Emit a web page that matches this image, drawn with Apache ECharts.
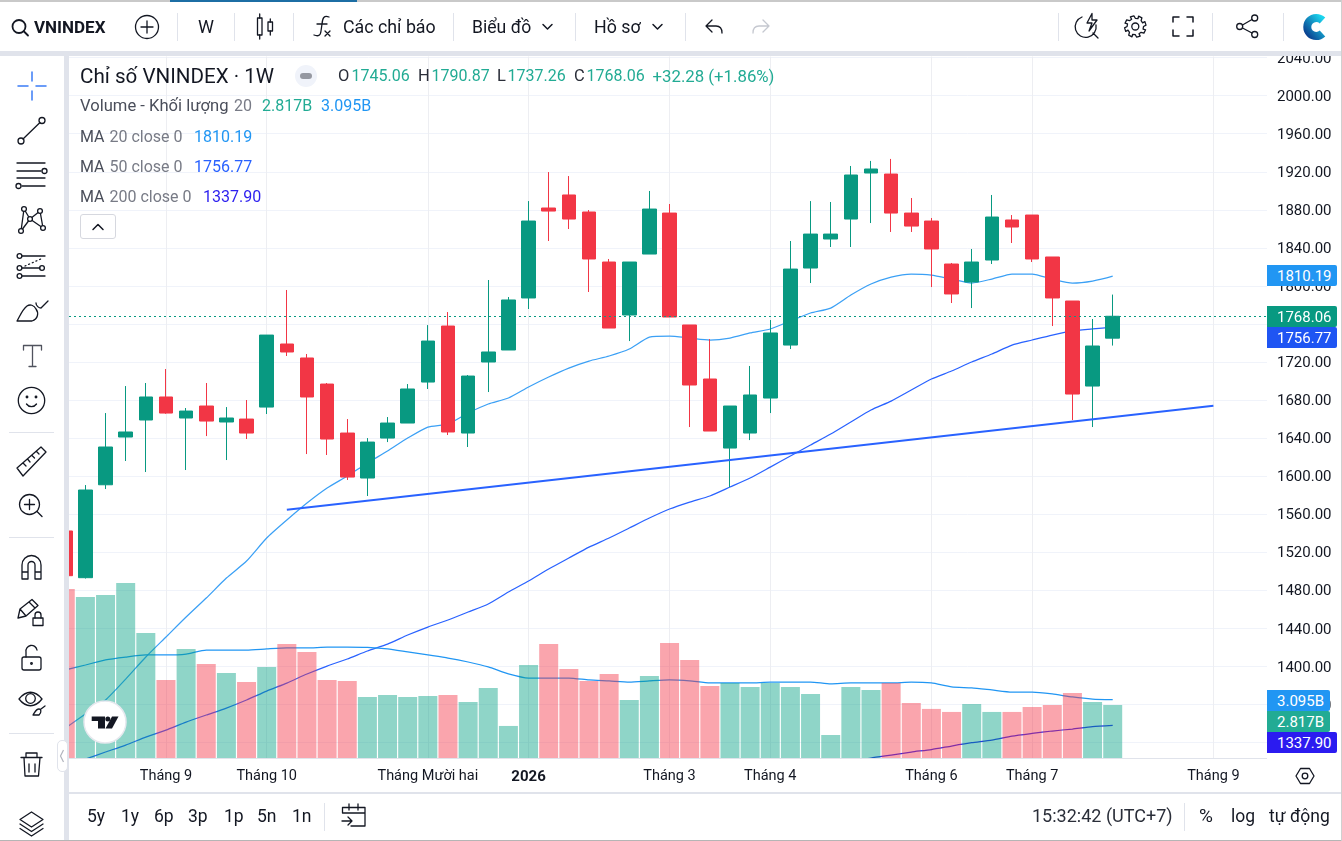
<!DOCTYPE html>
<html lang="vi"><head><meta charset="utf-8"><title>VNINDEX</title>
<script src="https://cdn.jsdelivr.net/npm/echarts@6/dist/echarts.min.js"></script>
<style>
html,body{margin:0;padding:0;width:1342px;height:841px;overflow:hidden;background:#fff;font-family:Roboto,"Liberation Sans",sans-serif;color:#131722}
#chart{position:absolute;left:0;top:0;width:1342px;height:841px}
.p{position:absolute;z-index:2}
.t{position:absolute;z-index:4;white-space:nowrap;line-height:20px;height:20px}
.tag{position:absolute;z-index:4;left:1267px;height:21px;line-height:22px;color:#fff;font-size:15px;text-align:left;padding-left:10px;box-sizing:border-box;border-radius:0 2px 2px 0}
#ic{position:absolute;left:0;top:0;z-index:3;pointer-events:none}
#ic .s{fill:none;stroke:#131722;stroke-width:1.3;stroke-linecap:round;stroke-linejoin:round}
</style></head><body>
<div id="chart"></div>
<script>
// ---- chart data (index 0 = the week clipped at the left edge)
const opens=[1542.3,1493.2,1590.9,1641.1,1659.0,1683.2,1661.1,1673.7,1656.9,1660.0,1672.6,1738.9,1724.2,1696.8,1645.3,1598.0,1640.0,1655.8,1698.9,1757.8,1645.3,1720.0,1732.6,1787.3,1881.9,1895.6,1877.7,1825.1,1769.4,1833.5,1876.6,1758.9,1702.1,1629.5,1645.3,1682.1,1737.8,1818.8,1849.3,1870.3,1918.7,1917.6,1876.6,1868.2,1823.0,1804.1,1827.2,1869.3,1874.5,1830.4,1784.1,1694.7,1745.06];
const closes=[1495.3,1585.4,1630.6,1646.4,1683.2,1666.3,1668.4,1657.9,1661.1,1645.3,1748.3,1730.5,1683.2,1639.0,1599.0,1635.8,1655.8,1691.6,1742.0,1646.4,1705.2,1730.5,1785.2,1868.2,1878.7,1870.3,1828.3,1755.7,1825.1,1880.8,1767.3,1695.8,1647.4,1673.7,1685.3,1750.5,1817.7,1854.5,1854.5,1916.6,1922.9,1876.6,1862.9,1838.8,1791.5,1825.1,1872.4,1861.9,1828.3,1787.3,1686.3,1736.8,1768.06];
const lows=[1490,1492.3,1586.4,1615.9,1604.3,1665.5,1606.4,1642.1,1616.9,1639.0,1665.3,1726.3,1623.2,1622.2,1595.9,1579.1,1635.8,1655.8,1691.6,1643.2,1630.6,1688.4,1732.6,1775.7,1847.2,1859.8,1793.6,1755.7,1742.0,1833.5,1767.3,1651.6,1647.4,1588.5,1637.9,1666.3,1733.6,1803.0,1840.9,1840.9,1866.1,1856.7,1856.7,1798.8,1782.0,1776.7,1823.0,1845.1,1825.1,1757.8,1659.0,1651.6,1737.26];
const highs=[1550,1590.6,1666.3,1694.7,1697.9,1712.6,1671.6,1697.9,1672.6,1680.0,1748.3,1795.7,1728.4,1697.9,1660.0,1640.0,1662.1,1696.8,1758.8,1772.5,1706.3,1806.2,1788.3,1889.2,1919.7,1915.5,1879.8,1828.3,1825.1,1899.8,1886.1,1758.9,1744.1,1673.7,1715.8,1764.1,1847.2,1889.2,1888.2,1926.1,1931.4,1933.5,1892.4,1871.4,1824.1,1838.8,1895.6,1874.5,1874.5,1830.4,1784.1,1765.2,1790.87];
const volumes=[8.95,8.53,8.63,9.27,6.62,4.14,5.78,4.98,4.51,4.03,4.83,6.04,5.62,4.14,4.09,3.24,3.35,3.24,3.29,3.35,2.98,3.72,1.71,4.93,6.04,4.72,4.09,4.46,3.08,4.35,6.09,5.20,3.82,3.98,3.77,3.98,3.77,3.40,1.23,3.77,3.61,3.98,2.92,2.61,2.45,2.87,2.45,2.45,2.71,2.82,3.45,2.98,2.817];
const ma20=[1335.1,1349.8,1364.6,1386.6,1409.8,1430.8,1451.8,1471.8,1492.8,1510.7,1534.9,1553.8,1571.7,1587.5,1600.1,1613.8,1626.4,1640.0,1651.6,1654.8,1666.3,1675.8,1682.1,1693.7,1704.2,1713.6,1721.0,1726.3,1733.6,1746.2,1747.3,1745.2,1743.1,1745.2,1750.5,1754.7,1763.1,1771.5,1776.7,1790.4,1802.0,1809.3,1812.5,1811.4,1807.2,1803.0,1807.2,1812.5,1812.5,1807.2,1803.0,1805.1,1810.19];
const ma50=[1295.2,1302.5,1309.9,1317.2,1325.6,1333.0,1341.4,1348.8,1356.1,1364.6,1374.0,1382.4,1391.9,1400.3,1407.7,1416.1,1423.4,1432.9,1441.3,1448.7,1457.1,1465.5,1478.1,1489.7,1502.3,1513.9,1525.4,1534.9,1545.4,1555.9,1565.4,1572.7,1579.1,1588.5,1598.0,1609.5,1621.1,1632.7,1644.2,1656.9,1669.5,1678.9,1690.5,1702.1,1710.5,1720.0,1728.4,1737.8,1743.1,1748.3,1752.6,1754.7,1756.77];
const ma200Weeks=[38,39,40,41,42,43,44,45,46,47,48,49,50,51];
const ma200=[1299.4,1303.6,1306.7,1309.9,1312.5,1316.2,1319.7,1322.5,1326.7,1329.5,1332.0,1334.1,1336.5,1337.90];
const volMa=[4.67,4.93,5.20,5.35,5.46,5.46,5.51,5.72,5.72,5.72,5.78,5.83,5.83,5.88,5.88,5.86,5.78,5.62,5.46,5.30,5.09,4.83,4.46,4.24,4.24,4.24,4.14,4.09,4.03,4.09,4.14,4.09,3.98,3.98,3.98,4.03,4.03,4.03,3.93,3.98,3.98,3.98,4.03,3.98,3.77,3.72,3.61,3.50,3.50,3.40,3.24,3.13,3.095];
const trendWeeks=[10,56];
const trendPrices=[1564.7,1674.0];
const lastClose=1768.06;
const priceTicks=[1320,1360,1400,1440,1480,1520,1560,1600,1640,1680,1720,1760,1800,1840,1880,1920,1960,2000,2040];
const timeTickWeeks=[4,9,17,22,29,34,42,47,56];
const timeTickLabels=['Tháng 9','Tháng 10','Tháng Mười hai','2026','Tháng 3','Tháng 4','Tháng 6','Tháng 7','Tháng 9'];

const FONT='Roboto';
const UP='#089981',DOWN='#F23645';
const weeks=opens.map((_,i)=>i-1);
const chart=echarts.init(document.getElementById('chart'),null,{renderer:'canvas'});
const gridLine={lineStyle:{color:'#F0F3FA',width:1}};
chart.setOption({
  animation:false,
  backgroundColor:'#fff',
  grid:{left:69,top:56.5,width:1198,height:701.8,containLabel:false},
  xAxis:{type:'value',min:-0.814,max:58.66,
    axisLine:{show:false},
    axisTick:{show:false,customValues:timeTickWeeks},
    splitLine:{show:true,lineStyle:{color:'#EDEEF2',width:1}},
    axisLabel:{show:true,customValues:timeTickWeeks,margin:11,fontFamily:FONT,fontSize:14.5,color:'#131722',
      formatter:v=>{const s=timeTickLabels[timeTickWeeks.indexOf(v)];return s==='2026'?'{b|2026}':s;},
      rich:{b:{fontWeight:'bold',fontFamily:FONT,fontSize:15,color:'#131722'}}}},
  yAxis:[{type:'value',position:'right',min:1303.3,max:2041.2,
      axisLine:{show:false},axisTick:{show:false,customValues:priceTicks},
      splitLine:Object.assign({show:true},gridLine),
      axisLabel:{show:true,customValues:priceTicks,margin:10,fontFamily:FONT,fontSize:15,color:'#131722',
        formatter:v=>'{a|'+v.toFixed(2)+'}',
        rich:{a:{fontFamily:FONT,fontSize:15,color:'#131722',padding:[3,0,0,0]}}}},
    {type:'value',show:false,min:0,max:37.09,splitLine:{show:false}}],
  series:[
    {type:'line',name:'MA 20',z:2,smooth:0.2,data:weeks.map((w,i)=>[w,ma20[i]]),showSymbol:false,symbol:'none',lineStyle:{color:'#3BA0F5',width:1.25}},
    {type:'line',name:'MA 50',z:2,smooth:0.2,data:weeks.map((w,i)=>[w,ma50[i]]),showSymbol:false,symbol:'none',lineStyle:{color:'#2962FF',width:1.25}},
    {type:'line',name:'MA 200',z:2,smooth:0.2,data:ma200Weeks.map((w,i)=>[w,ma200[i]]),showSymbol:false,symbol:'none',lineStyle:{color:'#2A2AF0',width:1.25}},
    {type:'line',name:'Volume MA',z:2,smooth:0.2,yAxisIndex:1,data:weeks.map((w,i)=>[w,volMa[i]]),showSymbol:false,symbol:'none',lineStyle:{color:'#2196F3',width:1.25}},
    {type:'bar',name:'Volume',z:3,yAxisIndex:1,barWidth:19,clip:true,
      data:weeks.map((w,i)=>({value:[w,volumes[i]],itemStyle:{color:closes[i]>=opens[i]?'rgba(0,160,130,.44)':'rgba(244,50,68,.44)'}}))},
    {type:'candlestick',name:'VNINDEX',z:4,barWidth:14,clip:true,
      data:weeks.map((w,i)=>[w,opens[i],closes[i],lows[i],highs[i]]),
      itemStyle:{color:UP,color0:DOWN,borderColor:UP,borderColor0:DOWN,borderWidth:1}},
    {type:'line',name:'Last close',z:5,data:[],symbol:'none',
      markLine:{silent:true,symbol:'none',label:{show:false},animation:false,
        lineStyle:{color:UP,type:[2,3],width:1.2,opacity:1},emphasis:{disabled:true},data:[{yAxis:lastClose}]}},
    {type:'line',name:'Trend',z:5,data:trendWeeks.map((w,i)=>[w,trendPrices[i]]),showSymbol:false,symbol:'none',lineStyle:{color:'#2962FF',width:2}}
  ]
});

// ---- page chrome
function panel(x,y,w,h,c){const d=document.createElement('div');d.className='p';d.style.cssText=`left:${x}px;top:${y}px;width:${w}px;height:${h}px;background:${c}`;document.body.appendChild(d);return d;}
function text(x,yc,s,o={}){const d=document.createElement('span');d.className='t';d.textContent=s;
  d.style.left=x+'px';d.style.top=(yc-10)+'px';d.style.fontSize=(o.size||16)+'px';d.style.color=o.color||'#131722';
  if(o.bold)d.style.fontWeight='700';if(o.font)d.style.fontFamily=o.font;document.body.appendChild(d);return d;}
function tag(y,s,c,w){const d=document.createElement('div');d.className='tag';d.textContent=s;d.style.top=y+'px';d.style.background=c;d.style.width=w+'px';document.body.appendChild(d);}
const EDGE='#E0E3EB';
panel(0,0,1342,52,'#fff');
panel(0,0,1342,2,'#C9C9C9');
panel(170,0,187,2,'#1C6EA4');
panel(0,51,1342,5,EDGE);
panel(0,56,64,785,'#fff');
panel(64,56,5,785,EDGE);
panel(69,758,1198,1,EDGE);
panel(69,792,1273,1.5,EDGE);
panel(69,793.5,1273,47,'#fff');
panel(0,840,1342,1,'#B5B5B5');
panel(1341,0,1,841,'#D0D0D0');
[177,234,293,453,575,685,1058,1212,1283].forEach(x=>panel(x,13,1,28,EDGE));
[324,1184].forEach(x=>panel(x,803,1,28,EDGE));
[432,537,733].forEach(y=>panel(9,y,45,1,EDGE));
// collapse handle
const h=panel(57,740,11,32,'#fff');h.style.border='1px solid '+EDGE;h.style.borderRadius='5px';h.style.boxSizing='border-box';
// collapse button in legend
const bt=panel(80,214,36,25,'#fff');bt.style.border='1px solid #D6D8DF';bt.style.borderRadius='3px';bt.style.boxSizing='border-box';

// toolbar text
text(34,27,'VNINDEX',{bold:true,size:17});
text(198,26.5,'W',{size:18});
text(343,26.5,'Các chỉ báo',{size:17.8});
text(472,26.5,'Biểu đồ',{size:17.6});
text(594,26.5,'Hồ sơ',{size:17.8});
// legend
text(80,75.5,'Chỉ số VNINDEX · 1W',{size:20.6});
const V='#22AB94',G='#787B86';
text(338,76,'O',{size:16.5,color:'#2A2E39'});text(351.5,76,'1745.06',{color:V});
text(418,76,'H',{size:16.5,color:'#2A2E39'});text(431.5,76,'1790.87',{color:V});
text(497,76,'L',{size:16.5,color:'#2A2E39'});text(507.5,76,'1737.26',{color:V});
text(574,76,'C',{size:16.5,color:'#2A2E39'});text(586.5,76,'1768.06',{color:V});
text(652.5,76,'+32.28 (+1.86%)',{color:V,size:16.8});
text(80,106,'Volume - Khối lượng',{color:'#4A4E5A',size:16.6});text(234,106,'20',{color:G});text(262,106,'2.817B',{color:V});text(321,106,'3.095B',{color:'#2196F3'});
text(80,136.5,'MA',{color:'#4A4E5A'});text(109.5,136.5,'20 close 0',{color:G});text(194,136.5,'1810.19',{color:'#2196F3'});
text(80,166.5,'MA',{color:'#4A4E5A'});text(109.5,166.5,'50 close 0',{color:G});text(194,166.5,'1756.77',{color:'#2962FF'});
text(80,196.5,'MA',{color:'#4A4E5A'});text(109.5,196.5,'200 close 0',{color:G});text(203,196.5,'1337.90',{color:'#2C1FEF'});
// bottom bar
[['5y',87],['1y',121],['6p',154],['3p',188],['1p',224],['5n',257],['1n',292]].forEach(a=>text(a[1],816,a[0],{size:17.5}));
text(1032,816,'15:32:42 (UTC+7)',{size:18,color:'#2A2E39'});
text(1199,816,'%',{size:19});text(1231,816,'log',{size:17.5});text(1269,816,'tự động',{size:17.5});
// price tags
tag(265,'1810.19','#2196F3',70);
tag(306,'1768.06','#089981',70);
tag(327,'1756.77','#1F55F3',70);
tag(690,'3.095B','#2196F3',63);
tag(711,'2.817B','#22AB94',63);
tag(732,'1337.90','#2B1BF0',70);

// icons, drawn in page coordinates
function gear(cx,cy){let d='';for(let i=0;i<8;i++){const a0=i*Math.PI/4-Math.PI/8;
  [[10.8,-.17],[10.8,.17],[8.2,.3],[8.2,.62]].forEach((p,k)=>{const a=a0+p[1]+.09;d+=((i===0&&k===0)?'M':'L')+(cx+p[0]*Math.cos(a)).toFixed(1)+' '+(cy+p[0]*Math.sin(a)).toFixed(1)+' ';});}return d+'Z';}
document.body.insertAdjacentHTML('beforeend',`<svg id="ic" width="1342" height="841" viewBox="0 0 1342 841">
<defs><linearGradient id="cg" x1="1" y1="0" x2="0" y2="1"><stop offset="0" stop-color="#1BD5EE"/><stop offset="1" stop-color="#0A3F8F"/></linearGradient></defs>
<circle cx="306" cy="76" r="11" fill="#F0F3FA"/><rect x="300" y="73" width="12" height="6" rx="3" fill="#9598A1"/>
<g class="s">
<circle cx="19" cy="26.5" r="6.5" stroke-width="1.8"/><path d="M24 31.5L28 35.5" stroke-width="1.8"/>
<circle cx="147" cy="27" r="11.5"/><path d="M141 27H153M147 21V33"/>
<rect x="257.5" y="18" width="4.5" height="17"/><path d="M259.7 14V18M259.7 35V39"/><rect x="268" y="22" width="4.5" height="9"/><path d="M270.3 19V22M270.3 31V35"/>
<path d="M329 17C324 15 322.5 18 322 24L321 31C320.5 36 318 36.5 314 35M317 24H327M325 31L330 36M330 31L325 36"/>
<path d="M543 24.5L547.5 29L552 24.5M653 24.5L657.5 29L662 24.5" stroke-width="1.5"/>
<path d="M712 20L706 26L712 32M706 26H716C720 26 722 29 722 33"/>
<path d="M763 20L769 26L763 32M769 26H759C755 26 753 29 753 33" style="stroke:#C5C8D0"/>
<path d="M1096 25A10.5 10.5 0 1 1 1082 17M1093 33L1098 38M1092 13.5L1087 23H1092L1089 31L1097 20H1092Z"/>
<path d="${gear(1135.3,26.5)}"/><circle cx="1135.3" cy="26.5" r="3.5"/>
<path d="M1173 22V17H1179M1187 17H1193V22M1193 30V36H1187M1179 36H1173V30" stroke-width="1.5"/>
<circle cx="1254.7" cy="18" r="3"/><circle cx="1239.7" cy="26.5" r="3"/><circle cx="1254.7" cy="34.5" r="3"/><path d="M1242.5 25L1252 19.5M1242.5 28L1252 33"/>
<path d="M342.5 813V807.5H365V826H351M342.5 813H365M349 804V810M358 804V810M342 821H352M348 817L352 821L348 825"/>
<path d="M1296 776L1300.5 768.5H1309.5L1314 776L1309.5 783.5H1300.5Z"/><circle cx="1305" cy="776" r="2.8"/>
<g style="stroke:#3B7CF6;stroke-width:1.5"><path d="M18 86H28M36 86H46M32 72V81M32 91V100"/></g>
<circle cx="42" cy="120.5" r="3"/><circle cx="21" cy="141" r="3"/><path d="M23 139L40 122.5"/>
<path d="M17 163H45M17 171H41M17 178H45M22 186H45"/><circle cx="44.5" cy="171" r="2.5"/><circle cx="18.5" cy="186" r="2.5"/>
<path d="M24 209L30 219L40 211L43 228L30 219L21 231L24 209M40 211L30 219"/><circle cx="24" cy="209" r="2.4" fill="#fff"/><circle cx="40" cy="211" r="2.4" fill="#fff"/><circle cx="30" cy="219" r="2.4" fill="#fff"/><circle cx="21" cy="231" r="2.4" fill="#fff"/><circle cx="43" cy="228" r="2.4" fill="#fff"/>
<path d="M22 256H45M22 268H40M22 276H45"/><path d="M25 266L43 258" stroke-dasharray="1 3"/><circle cx="19.5" cy="256" r="2.4"/><circle cx="19.5" cy="268" r="2.4"/><circle cx="19.5" cy="276" r="2.4"/><circle cx="42" cy="268" r="2.4"/>
<path d="M17 321H32C38 319 39 313 36 309C34 305 30 304 27 306C22 310 20 316 17 321ZM36 303C36 306 39 308 41 308L48 301"/>
<path d="M23.5 350V345.5H41.5V350M32.5 345.5V366.5M29 366.5H36" stroke="#50535E"/>
<circle cx="31.5" cy="400.5" r="13.2"/><circle cx="27" cy="397" r=".8"/><circle cx="36" cy="397" r=".8"/><path d="M26.5 404C29 407.5 34 407.5 36.5 404"/>
<path d="M17 468L41 447L46 452L23 476ZM23 463L26 466M27.5 459L30 462M32 455.5L34.5 458M36.5 451.5L39 454"/>
<circle cx="29.5" cy="504.5" r="10"/><path d="M24.5 504.5H34.5M29.5 499.5V509.5M37 511.5L42 516.5"/>
<path d="M22 579V565A9.5 9.5 0 0 1 41 565V579H35V565A3.5 3.5 0 0 0 28 565V579ZM22 572H28M35 572H41"/>
<path d="M18 618L20 609L32 599.5L38 605.5L26 616ZM20 609L26 616M29 602L35 608"/><rect x="33" y="618" width="10" height="7.5"/><path d="M35 618V615A3 3 0 0 1 41 615V618"/>
<rect x="22" y="657" width="19" height="13" rx="2"/><path d="M26 657V652A5.5 5.5 0 0 1 37 650"/><circle cx="31.5" cy="663.5" r=".8"/>
<path d="M19 699C26 690 35 690 42 699C35 708 26 708 19 699Z"/><circle cx="30.5" cy="698.5" r="4.8"/><path d="M33 715H39C42 712 41 709 39 709C36 709 35 712 33 715ZM41 709L45 706"/>
<path d="M21 757.5H42M26 757V753H37V757M24 757.5L25 776H38.5L40 757.5M29 764V772M35 764V772"/>
<path d="M31.5 812L43 819.5L31.5 827L20 819.5ZM20 824L31.5 831.5L43 824M20 828.5L31.5 836L43 828.5"/>
<path d="M93 229.5L98 224.5L103 229.5" stroke-width="1.5"/>
</g>
<path d="M63.5 750L60.5 756L63.5 762" fill="none" stroke="#B2B5BE" stroke-width="1.2"/>
<path d="M1322.5 20.5A9 9 0 1 0 1322.5 33.5" fill="none" stroke="url(#cg)" stroke-width="8"/>
<circle cx="105" cy="722" r="21" fill="#fff" stroke="#E6E8EE" stroke-width="1.5"/>
<path d="M91.7 716.5H105V728.5H98V721H91.7Z" fill="#131722"/><circle cx="107.8" cy="719" r="2.5" fill="#131722"/><path d="M112 716.5H118.5L112 728.5H105.5Z" fill="#131722"/>
</svg>`);
</script>
</body></html>
